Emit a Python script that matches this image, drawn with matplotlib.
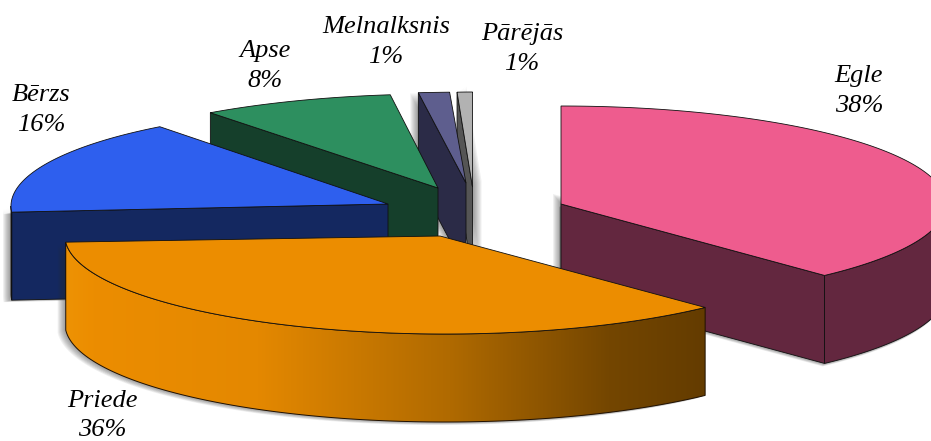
import numpy as np
import matplotlib
matplotlib.use('Agg')
import matplotlib.pyplot as plt
from matplotlib.colors import LinearSegmentedColormap
from matplotlib.patches import Polygon

# data
labels = ['Egle', 'Priede', 'Bērzs', 'Apse', 'Melnalksnis', 'Pārējās']
values = [38, 36, 16, 8, 1, 1]

# layout in picture pixels: arc centre x, y, radius x, radius y, apex x, apex y
geom = [
    (561, 204, 385, 98, 561, 204),
    (445, 236, 380, 98, 440, 236),
    (372, 206, 361, 98, 388, 204),
    (439, 192, 389, 98, 438, 188),
    (481, 183, 500, 91, 466, 183),
    (472.5, 187, 246, 95, 472.5, 187),
]
top_colors = ['#EE5C8E', '#EC8D00', '#2E5FEE', '#2D8F5F', '#5E5E8E', '#B2B2B2']
side_colors = ['#63273F', '#EC8D00', '#142860', '#153F2B', '#2B2B47', '#555555']
label_pos = [(859, 91), (102, 415.5), (41, 110), (265, 66), (386, 42), (522, 49)]
depth = 88
draw_order = [5, 4, 3, 2, 0, 1]
shadows = {5: [(9, -6)], 4: [(-8, 0)], 2: [(-8, 2)], 0: [(-8, -10), (-2, 3)], 1: [(-8, 3)]}

plt.rcParams['font.family'] = ['Liberation Serif', 'DejaVu Serif']

fig = plt.figure(figsize=(9.31, 4.41), dpi=100, facecolor='white')
ax = fig.add_axes([0, 0, 1, 1])

# slice angles, clockwise from the top
edges = np.radians(np.concatenate([[0], np.cumsum(values)]) * 360.0 / sum(values))


def arc(g, a, b, n=120):
    t = np.linspace(a, b, n)
    return np.column_stack([g[0] + g[2] * np.sin(t), g[1] - g[3] * np.cos(t)])


def down(pts):
    return pts + np.array([0, depth])


def shadow(pts, dx, dy, z, n=8):
    for k in range(1, n + 1):
        ax.add_patch(Polygon(pts + np.array([dx * k / n, dy * k / n]), closed=True,
                             fc='#303030', ec='none', alpha=0.07, zorder=z))


grad = LinearSegmentedColormap.from_list('priede', [(0, '#EE9204'), (0.04, '#EC8D00'), (0.3, '#E48800'),
                                                    (0.6, '#B06A00'), (0.85, '#744600'), (1, '#643C00')])

z = 1
for i in draw_order:
    g = geom[i]
    a, b = edges[i], edges[i + 1]
    apex = np.array([[g[4], g[5]]])
    outer = arc(g, a, b)
    top = np.vstack([apex, outer])

    faces = []
    if np.sin(a) < -0.01:
        e = outer[:1]
        faces.append(np.vstack([apex, e, down(e), down(apex)]))
    if np.sin(b) > 0.01:
        e = outer[-1:]
        faces.append(np.vstack([apex, e, down(e), down(apex)]))
    wall_a, wall_b = max(a, np.pi / 2), min(b, 3 * np.pi / 2)
    wall = None
    if wall_b > wall_a:
        w = arc(g, wall_a, wall_b)
        wall = np.vstack([w, down(w)[::-1]])

    for off in shadows.get(i, []):
        for f in faces + ([wall] if wall is not None else []):
            shadow(f, off[0], off[1], z)
    z += 1
    for f in faces:
        ax.add_patch(Polygon(f, closed=True, fc=side_colors[i], ec='#101010', lw=0.6, zorder=z))
    if wall is not None:
        if labels[i] == 'Priede':
            x0, x1 = wall[:, 0].min(), wall[:, 0].max()
            y0, y1 = wall[:, 1].min(), wall[:, 1].max()
            im = ax.imshow(np.linspace(0, 1, 256).reshape(1, -1), cmap=grad, aspect='auto',
                           extent=(x0, x1, y1, y0), zorder=z)
            p = Polygon(wall, closed=True, fc='none', ec='#201000', lw=0.7, zorder=z)
            ax.add_patch(p)
            im.set_clip_path(p)
        else:
            ax.add_patch(Polygon(wall, closed=True, fc=side_colors[i], ec='#101010', lw=0.6, zorder=z))
    ax.add_patch(Polygon(top, closed=True, fc=top_colors[i], ec='#101010', lw=0.6, zorder=z))
    z += 1

for lab, val, pos in zip(labels, values, label_pos):
    ax.text(pos[0], pos[1], f'{lab}\n{val}%', style='italic', fontsize=19, color='black',
            ha='center', va='center', linespacing=1.44, zorder=z)

ax.set_xlim(0, 931)
ax.set_ylim(441, 0)
ax.axis('off')
fig.savefig('out.png', dpi=100)
